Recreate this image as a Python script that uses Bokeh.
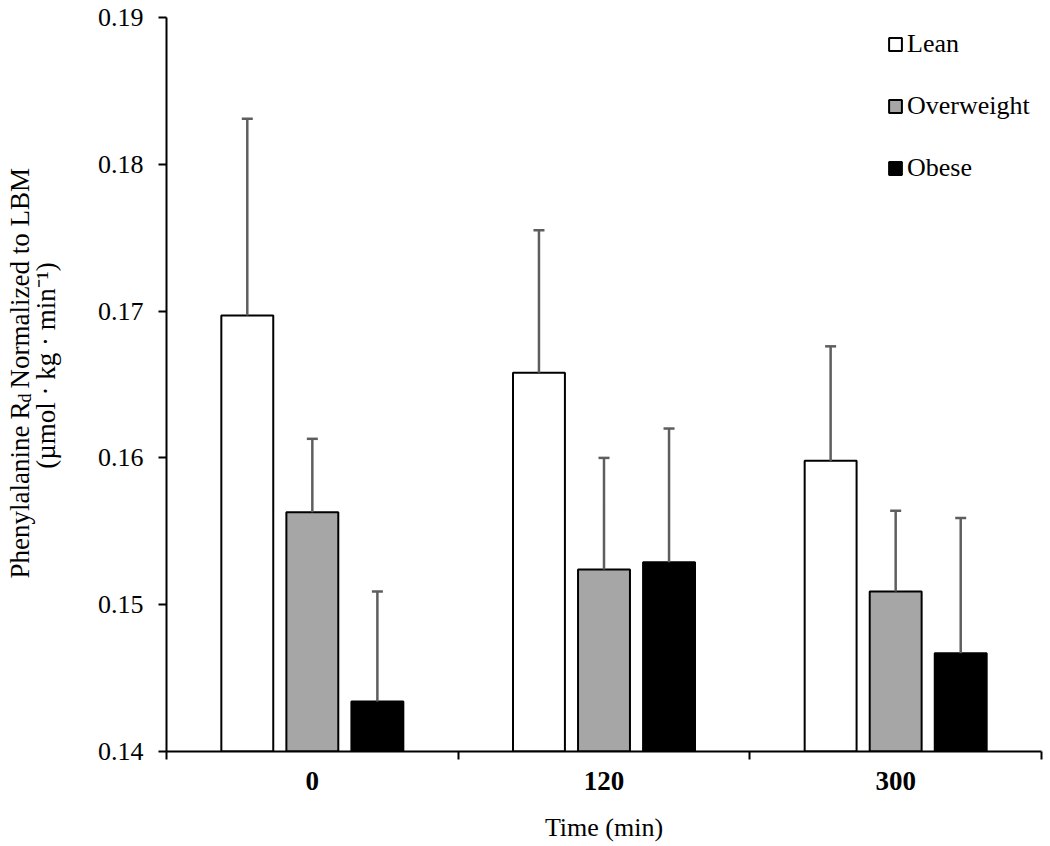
from bokeh.plotting import figure
from bokeh.layouts import row
from bokeh.models import (Range1d, FixedTicker, ColumnDataSource, Whisker, TeeHead,
                          Legend, LegendItem, NumeralTickFormatter)
from bokeh.core.properties import value
from bokeh.embed import file_html
from bokeh.resources import INLINE

# ---------------- data ----------------
times = ["0", "120", "300"]
groups = ["Lean", "Overweight", "Obese"]
lean_mean = [0.1697, 0.1658, 0.1598]
lean_se = [0.0134, 0.0097, 0.0078]
over_mean = [0.1563, 0.1524, 0.1509]
over_se = [0.0050, 0.0076, 0.0055]
obese_mean = [0.1434, 0.1529, 0.1467]
obese_se = [0.0075, 0.0091, 0.0092]
y_ticks = [0.14, 0.15, 0.16, 0.17, 0.18, 0.19]

means = [lean_mean, over_mean, obese_mean]
ses = [lean_se, over_se, obese_se]
fills = ["white", "#a6a6a6", "black"]
offsets = [-0.223, 0.0, 0.223]
BAR_W = 0.178
Y0, Y1 = 0.14, 0.19

FONT = "Liberation Serif"
H = 846
TW = 70            # width of the strip holding the rotated y title
W = 1050 - TW
BL, BR, BT, BB = 96, 9, 17, 95

p = figure(width=W, height=H, x_range=Range1d(0, len(times)), y_range=Range1d(Y0, Y1),
           output_backend="svg", toolbar_location=None,
           min_border_left=BL, min_border_right=BR, min_border_top=BT, min_border_bottom=BB)
p.outline_line_color = None
p.xgrid.visible = False
p.ygrid.visible = False

renderers = []
for k in range(len(groups)):
    xs = [i + 0.5 + offsets[k] for i in range(len(times))]
    src = ColumnDataSource(dict(x=xs, top=means[k],
                                upper=[m + s for m, s in zip(means[k], ses[k])]))
    r = p.vbar(x="x", top="top", bottom=Y0, width=BAR_W, source=src,
               fill_color=fills[k], line_color="black", line_width=2)
    renderers.append(r)
    wk = Whisker(source=src, base="x", lower="top", upper="upper", dimension="height",
                 line_color="#5e5e5e", line_width=2.5,
                 upper_head=TeeHead(size=11, line_color="#5e5e5e", line_width=2.5),
                 lower_head=None, level="overlay")
    p.add_layout(wk)

# ---------------- axes ----------------
ya = p.yaxis[0]
ya.ticker = FixedTicker(ticks=y_ticks)
ya.formatter = NumeralTickFormatter(format="0.00")
ya.axis_line_width = 2
ya.axis_line_color = "black"
ya.major_tick_line_width = 2
ya.major_tick_line_color = "black"
ya.major_tick_out = 8
ya.major_tick_in = 0
ya.minor_tick_line_color = None
ya.major_label_text_font = FONT
ya.major_label_text_font_size = "26px"
ya.major_label_text_color = "black"
ya.major_label_standoff = 15

xa = p.xaxis[0]
xa.ticker = FixedTicker(ticks=[i + 0.5 for i in range(len(times))],
                        minor_ticks=list(range(len(times) + 1)))
xa.major_label_overrides = {i + 0.5: t for i, t in enumerate(times)}
xa.axis_line_width = 2
xa.axis_line_color = "black"
xa.major_tick_line_color = None
xa.major_tick_out = 8
xa.major_tick_in = 0
xa.minor_tick_line_color = "black"
xa.minor_tick_line_width = 2
xa.minor_tick_out = 8
xa.minor_tick_in = 0
xa.major_label_text_font = FONT
xa.major_label_text_font_size = "27px"
xa.major_label_text_font_style = "bold"
xa.major_label_text_color = "black"
xa.major_label_standoff = 12
xa.axis_label = "Time (min)"
xa.axis_label_text_font = FONT
xa.axis_label_text_font_size = "26px"
xa.axis_label_text_font_style = "normal"
xa.axis_label_text_color = "black"
xa.axis_label_standoff = 20

# ---------------- legend ----------------
legend = Legend(items=[LegendItem(label=g, renderers=[r]) for g, r in zip(groups, renderers)],
                location=(721, 568), orientation="vertical",
                glyph_width=16, glyph_height=16, label_standoff=4,
                label_text_font=FONT, label_text_font_size="26px", label_text_color="black",
                label_height=30, spacing=32, padding=0, margin=0,
                border_line_color=None, background_fill_alpha=0)
p.add_layout(legend)

# ---------------- y-axis title strip (rotated text with subscript) ----------------
# the row aligns this strip's frame with the main frame (page y BT .. H-BB),
# so its y range is given in "pixels from the bottom of the page" over that span
t = figure(width=TW, height=H, x_range=Range1d(0, TW), y_range=Range1d(BB, H - BT),
           output_backend="svg", toolbar_location=None,
           x_axis_type=None, y_axis_type=None,
           min_border_left=0, min_border_right=0, min_border_top=BT, min_border_bottom=BB)
t.outline_line_color = None
t.xgrid.visible = False
t.ygrid.visible = False

title_parts = ["Phenylalanine", "R", "d", "Normalized to LBM",
               "(\u00b5mol \u00b7 kg \u00b7 min\u207b\u00b9)"]
# baseline x and start y (px from top) for each part
part_x = [19, 19, 24, 19, 45]
part_y = [578, 419, 402, 388, 365]
part_size = ["27px", "27px", "18px", "27px", "27px"]
part_align = ["left", "left", "left", "left", "center"]
for txt, px, py, fs, al in zip(title_parts, part_x, part_y, part_size, part_align):
    t.text(x=[px], y=[H - py], text=[txt], angle=1.5707963267948966,
           text_font=value(FONT), text_font_size=value(fs), text_color="black",
           text_align=al, text_baseline="alphabetic")

layout = row(t, p, spacing=0)
open("out.html", "w").write(file_html(layout, INLINE))
